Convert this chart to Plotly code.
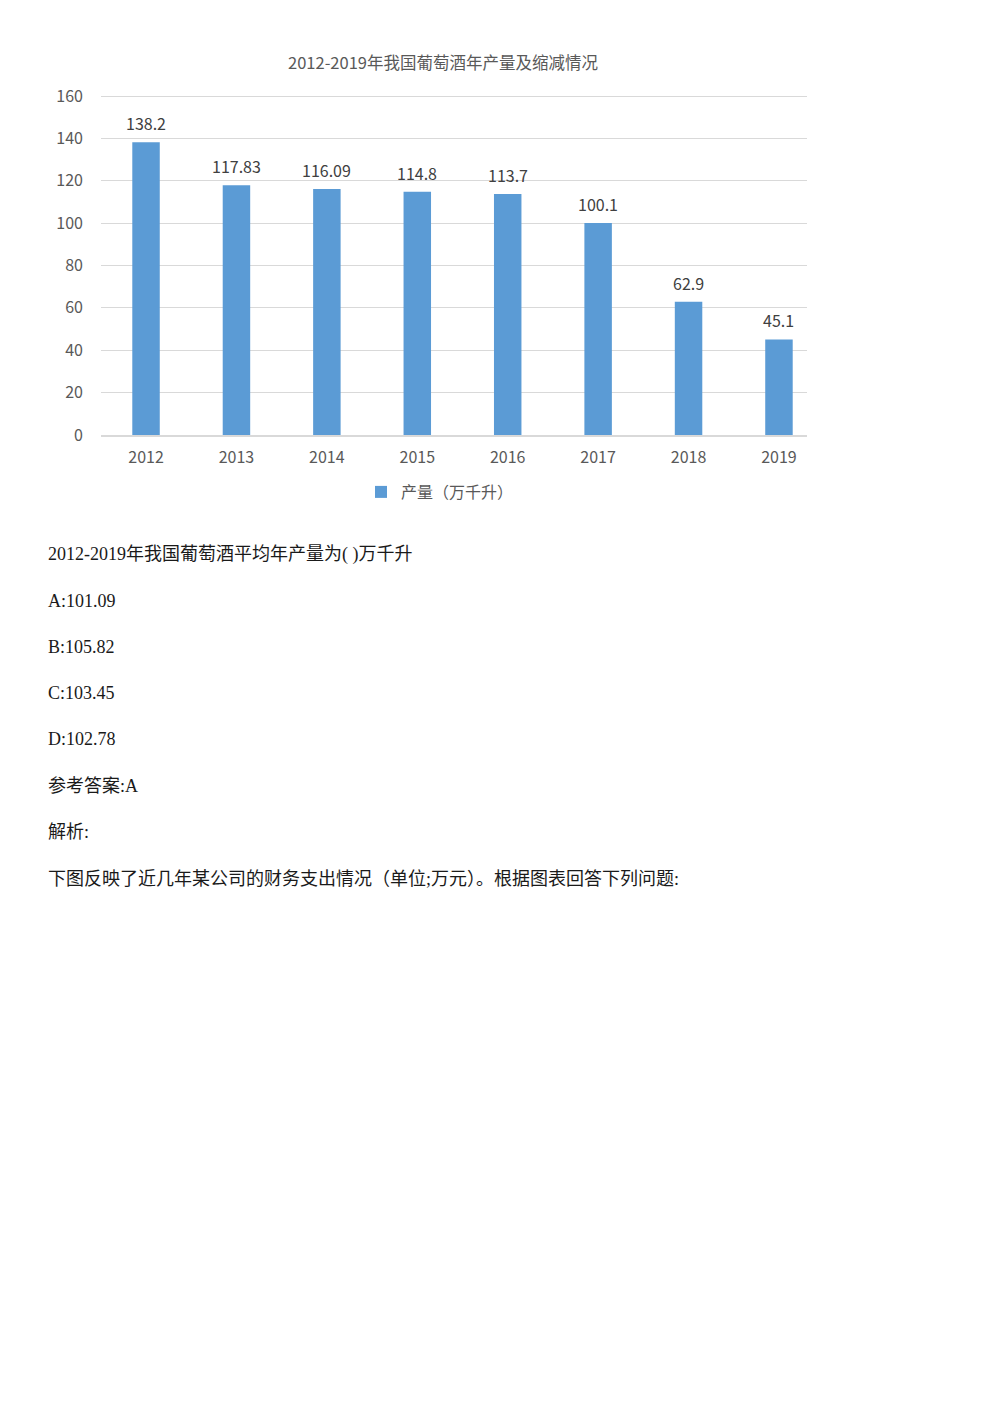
import plotly.graph_objects as go

years = ["2012", "2013", "2014", "2015", "2016", "2017", "2018", "2019"]
production = [138.2, 117.83, 116.09, 114.8, 113.7, 100.1, 62.9, 45.1]
value_labels = ["138.2", "117.83", "116.09", "114.8", "113.7", "100.1", "62.9", "45.1"]
y_ticks = [0, 20, 40, 60, 80, 100, 120, 140, 160]

chart_title = "2012-2019年我国葡萄酒年产量及缩减情况"
series_name = "产量（万千升）"

text_lines = [
    "2012-2019年我国葡萄酒平均年产量为( )万千升",
    "A:101.09",
    "B:105.82",
    "C:103.45",
    "D:102.78",
    "参考答案:A",
    "解析:",
    "下图反映了近几年某公司的财务支出情况（单位;万元）。根据图表回答下列问题:",
]
text_y_px = [554, 601, 647, 693, 739, 786, 832, 879]

# page has an 8px body margin; size the figure so the page is 1000x1414
OFF = 8
W, H = 1000 - 2 * OFF, 1414 - 2 * OFF


def px_x(px):
    return (px - OFF) / W


def px_y(px):
    return 1 - (px - OFF) / H


sans = "Noto Sans CJK SC, Noto Sans, sans-serif"
serif = "Liberation Serif, Noto Sans CJK SC, serif"

# y scale: 0 at 435px, 160 at 96px; pad the range a little so the 160 grid line is drawn
Y_MAX = 161.5
ppu = (435 - 96) / 160.0
top_px = 435 - Y_MAX * ppu

fig = go.Figure()
fig.add_trace(go.Bar(
    x=years, y=production, name=series_name,
    marker=dict(color="#5B9BD5", line=dict(width=0)),
    showlegend=True,
))

for i, (v, lab) in enumerate(zip(production, value_labels)):
    fig.add_annotation(
        x=i, y=v, text=lab, xref="x", yref="y",
        showarrow=False, yanchor="middle", yshift=19,
        font=dict(size=16, color="#404040", family=sans),
    )

fig.update_layout(
    width=W, height=H,
    paper_bgcolor="white", plot_bgcolor="white",
    margin=dict(l=0, r=0, t=0, b=0, autoexpand=False),
    bargap=0.696,
    showlegend=True,
    legend=dict(x=px_x(440), y=px_y(492), xanchor="center", yanchor="middle",
                font=dict(size=16, color="#595959", family=sans),
                itemwidth=30, bgcolor="rgba(0,0,0,0)"),
    title=dict(text=chart_title, x=px_x(443), xanchor="center",
               y=px_y(63), yanchor="middle",
               font=dict(size=16.5, color="#595959", family=sans)),
    xaxis=dict(type="category", domain=[px_x(101), px_x(807)], range=[-0.498, 7.31],
               showgrid=False, showline=True, automargin=False,
               linecolor="#D9D9D9", linewidth=1.5, ticks="",
               tickfont=dict(size=16, color="#595959", family=sans),
               ticklabelstandoff=7),
    yaxis=dict(domain=[px_y(435), px_y(top_px)], range=[0, Y_MAX],
               tickvals=y_ticks, showgrid=True, gridcolor="#D9D9D9",
               gridwidth=1, zeroline=False, showline=False, ticks="",
               automargin=False,
               tickfont=dict(size=16, color="#595959", family=sans),
               ticklabelstandoff=17),
)

for line, ypx in zip(text_lines, text_y_px):
    fig.add_annotation(
        text=line, xref="paper", yref="paper",
        x=px_x(46), y=px_y(ypx), xanchor="left", yanchor="middle",
        showarrow=False, font=dict(size=18, color="#1a1a1a", family=serif),
    )

fig.write_html("out.html")
